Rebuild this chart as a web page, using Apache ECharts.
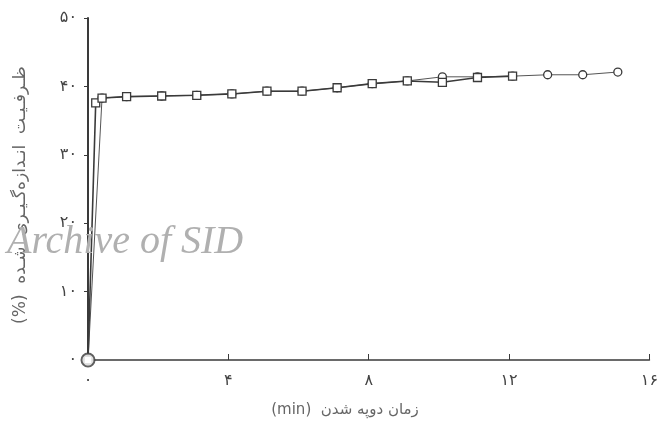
<!DOCTYPE html>
<html><head><meta charset="utf-8">
<script src="https://cdn.jsdelivr.net/npm/echarts@6/dist/echarts.min.js"></script>
<style>html,body{margin:0;padding:0;background:#fff}#c{width:661px;height:428px}</style>
</head><body><div id="c"></div>
<script>
// Data
const xTicks = [0, 4, 8, 12, 16];
const yTicks = [0, 10, 20, 30, 40, 50];
const timeSquare = [0, 0.22, 0.4, 1.1, 2.1, 3.1, 4.1, 5.1, 6.1, 7.1, 8.1, 9.1, 10.1, 11.1, 12.1];
const capSquare  = [0, 37.6, 38.3, 38.5, 38.6, 38.7, 38.9, 39.3, 39.3, 39.8, 40.4, 40.8, 40.6, 41.3, 41.5];
const timeCircle = [0, 0.4, 1.1, 2.1, 3.1, 4.1, 5.1, 6.1, 7.1, 8.1, 9.1, 10.1, 11.1, 12.1, 13.1, 14.1, 15.1];
const capCircle  = [0, 38.3, 38.5, 38.6, 38.7, 38.9, 39.3, 39.3, 39.8, 40.4, 40.8, 41.4, 41.4, 41.5, 41.7, 41.7, 42.1];
const xTitle = '(min)  زمان دوپه شدن';
const yTitle = '(%)  ظـرفـیـت  انـدازه‌گـیـری  شـده';
const watermark = 'Archive of SID';

const fa = n => String(n).replace(/\d/g, d => '۰۱۲۳۴۵۶۷۸۹'[d]);
const ink = '#3a3a3a';
const chart = echarts.init(document.getElementById('c'));
chart.setOption({
  backgroundColor: '#fff',
  animation: false,
  grid: {left: 88, right: 9, top: 18, bottom: 68},
  xAxis: {
    type: 'value', min: 0, max: 16, interval: 4,
    axisLine: {lineStyle: {color: ink, width: 1.5}},
    axisTick: {show: true, inside: true, length: 6, lineStyle: {color: ink}},
    splitLine: {show: false},
    axisLabel: {fontFamily: 'DejaVu Sans', fontSize: 16, color: '#444', margin: 13,
      formatter: v => xTicks.includes(v) ? fa(v) : ''}
  },
  yAxis: {
    type: 'value', min: 0, max: 50, interval: 10,
    axisLine: {show: true, lineStyle: {color: ink, width: 2}},
    axisTick: {show: true, inside: false, length: 4, lineStyle: {color: ink}},
    splitLine: {show: false},
    axisLabel: {fontFamily: 'DejaVu Sans', fontSize: 16, color: '#444', margin: 11,
      formatter: v => yTicks.includes(v) ? fa(v) : ''}
  },
  series: [
    {type: 'line', data: timeCircle.map((t, i) => [t, capCircle[i]]),
     symbol: 'circle', symbolSize: 8, showAllSymbol: true,
     lineStyle: {color: '#555', width: 1},
     itemStyle: {color: '#fff', borderColor: ink, borderWidth: 1.3}},
    {type: 'line', data: timeSquare.map((t, i) => [t, capSquare[i]]),
     symbol: 'rect', symbolSize: 8, showAllSymbol: true,
     lineStyle: {color: ink, width: 1.6},
     itemStyle: {color: '#fff', borderColor: ink, borderWidth: 1.3}},
    {type: 'scatter', data: [[0, 0]], symbol: 'circle', symbolSize: 13, z: 5,
     itemStyle: {color: '#fff', borderColor: ink, borderWidth: 2}}
  ],
  graphic: [
    {type: 'text', left: 7, top: 222, z: 10,
     style: {text: watermark, font: 'italic 40px "Liberation Serif"', fill: '#b0b0b0'}},
    {type: 'text', x: 345, y: 410,
     style: {text: xTitle, font: '15px "DejaVu Sans"', fill: '#666', align: 'center', verticalAlign: 'middle'}},
    {type: 'text', x: 21, y: 195, rotation: Math.PI / 2,
     style: {text: yTitle, font: '17px "DejaVu Sans"', fill: '#666', align: 'center', verticalAlign: 'middle'}}
  ]
});
</script></body></html>
